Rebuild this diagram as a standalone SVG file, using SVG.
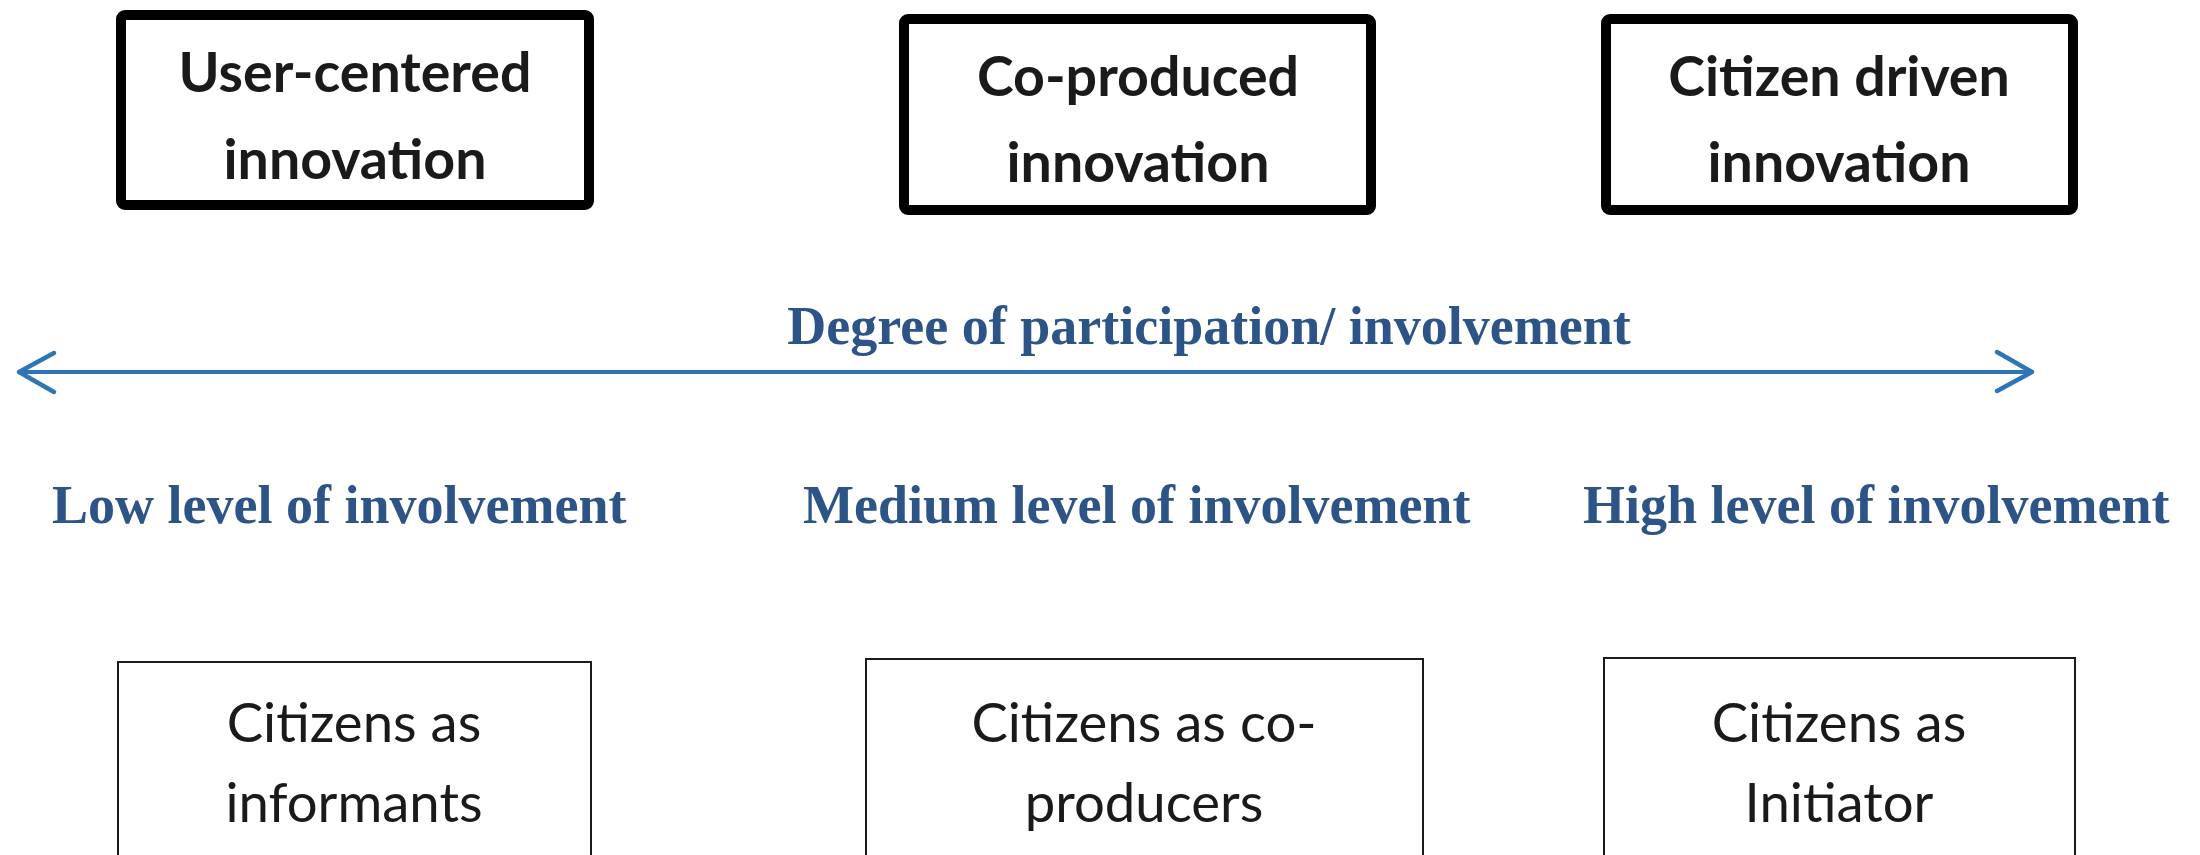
<svg xmlns="http://www.w3.org/2000/svg" width="2200" height="855" viewBox="0 0 2200 855">
<style>
.bg{fill:#ffffff}
.thick{fill:#ffffff;stroke:#000000;stroke-width:10}
.thin{fill:#ffffff;stroke:#1a1a1a;stroke-width:2}
.ttl{font-family:Lato,"Liberation Sans",sans-serif;font-weight:bold;font-size:55.5px;fill:#1a1a1a;text-anchor:middle}
.cit{font-family:Lato,"Liberation Sans",sans-serif;font-size:54.5px;fill:#1a1a1a;text-anchor:middle}
.blue{font-family:"Liberation Serif",serif;font-weight:bold;font-size:54px;fill:#2C5486;text-anchor:middle}
.lvl{font-family:"Liberation Serif",serif;font-weight:bold;font-size:54px;fill:#2C5486}
.axis{stroke:#2E75B6;stroke-width:4;fill:none}
</style>
<defs>
<marker id="chev" markerUnits="userSpaceOnUse" viewBox="-4 -4 44 48" refX="35" refY="20" markerWidth="44" markerHeight="48" orient="auto-start-reverse">
<path d="M0,0 L35,20 L0,39" fill="none" stroke="#2E75B6" stroke-width="4.5" stroke-linecap="round" stroke-linejoin="round"/>
</marker>
</defs>
<rect class="bg" x="0" y="0" width="2200" height="855"/>
<g id="user-centered">
<rect class="thick" x="121" y="15" width="468" height="190" rx="4"/>
<text class="ttl" x="355" y="92">User-centered</text>
<text class="ttl" x="355" y="179">innovation</text>
</g>
<g id="co-produced">
<rect class="thick" x="904" y="19" width="467" height="191" rx="4"/>
<text class="ttl" x="1138" y="96">Co-produced</text>
<text class="ttl" x="1138" y="182">innovation</text>
</g>
<g id="citizen-driven">
<rect class="thick" x="1606" y="19" width="467" height="191" rx="4"/>
<text class="ttl" x="1839" y="96">Citizen driven</text>
<text class="ttl" x="1839" y="182">innovation</text>
</g>
<g id="axis-label">
<text class="blue" x="1209" y="344">Degree of participation/ involvement</text>
</g>
<g id="connectors">
<line class="axis" x1="19" y1="372" x2="2032" y2="372" marker-start="url(#chev)" marker-end="url(#chev)"/>
</g>
<g id="levels">
<text class="lvl" x="52" y="523">Low level of involvement</text>
<text class="lvl" x="803" y="523">Medium level of involvement</text>
<text class="lvl" x="1583" y="523">High level of involvement</text>
</g>
<g id="informants">
<rect class="thin" x="118" y="662" width="473" height="220"/>
<text class="cit" x="354" y="742">Citizens as</text>
<text class="cit" x="354" y="822">informants</text>
</g>
<g id="co-producers">
<rect class="thin" x="866" y="659" width="557" height="220"/>
<text class="cit" x="1144" y="742">Citizens as co-</text>
<text class="cit" x="1144" y="822">producers</text>
</g>
<g id="initiator">
<rect class="thin" x="1604" y="658" width="471" height="220"/>
<text class="cit" x="1839" y="742">Citizens as</text>
<text class="cit" x="1839" y="822">Initiator</text>
</g>
</svg>
